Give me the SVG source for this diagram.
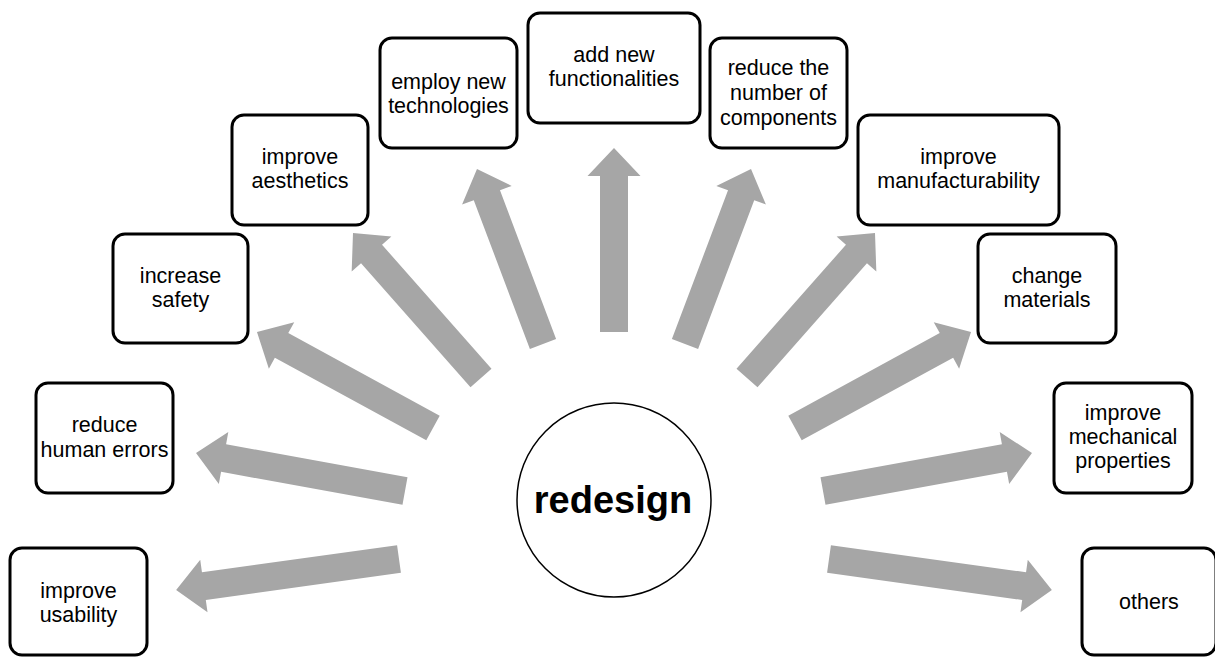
<svg xmlns="http://www.w3.org/2000/svg" width="1215" height="657" viewBox="0 0 1215 657">
<style>
.box{fill:#fff;stroke:#000;stroke-width:3}
.lbl{font-family:"Liberation Sans",Arial,sans-serif;font-size:21.5px;fill:#000;text-anchor:middle}
.arr{fill:#a6a6a6}
.hub{fill:#fff;stroke:#000;stroke-width:1.5}
.hubt{font-family:"Liberation Sans",Arial,sans-serif;font-size:38px;font-weight:bold;fill:#000;text-anchor:middle}
</style>
<rect width="1215" height="657" fill="#fff"/>
<g id="connectors">
<polygon class="arr" transform="translate(399,559) rotate(172.09)" points="0,-14 197,-14 197,-26.5 225,0 197,26.5 197,14 0,14"/>
<polygon class="arr" transform="translate(405,491) rotate(-169.7)" points="0,-14 184.4,-14 184.4,-26.5 212.4,0 184.4,26.5 184.4,14 0,14"/>
<polygon class="arr" transform="translate(433,428) rotate(-151.39)" points="0,-14 172.5,-14 172.5,-26.5 200.5,0 172.5,26.5 172.5,14 0,14"/>
<polygon class="arr" transform="translate(481,378) rotate(-131.44)" points="0,-14 165.4,-14 165.4,-26.5 193.4,0 165.4,26.5 165.4,14 0,14"/>
<polygon class="arr" transform="translate(543,344) rotate(-110.67)" points="0,-14 159,-14 159,-26.5 187,0 159,26.5 159,14 0,14"/>
<polygon class="arr" transform="translate(614,332) rotate(-90)" points="0,-14 156,-14 156,-26.5 184,0 156,26.5 156,14 0,14"/>
<polygon class="arr" transform="translate(685,344) rotate(-69.33)" points="0,-14 159,-14 159,-26.5 187,0 159,26.5 159,14 0,14"/>
<polygon class="arr" transform="translate(747,378) rotate(-48.56)" points="0,-14 165.4,-14 165.4,-26.5 193.4,0 165.4,26.5 165.4,14 0,14"/>
<polygon class="arr" transform="translate(795,428) rotate(-28.61)" points="0,-14 172.5,-14 172.5,-26.5 200.5,0 172.5,26.5 172.5,14 0,14"/>
<polygon class="arr" transform="translate(823,491) rotate(-10.3)" points="0,-14 184.4,-14 184.4,-26.5 212.4,0 184.4,26.5 184.4,14 0,14"/>
<polygon class="arr" transform="translate(829,559) rotate(7.91)" points="0,-14 197,-14 197,-26.5 225,0 197,26.5 197,14 0,14"/>
</g>
<g id="hub">
<circle class="hub" cx="614" cy="500" r="97"/>
<text class="hubt" x="613" y="513">redesign</text>
</g>
<g id="n-usability">
<rect class="box" x="10" y="548" width="137" height="107" rx="12"/>
<text class="lbl" x="78.5" y="598">improve</text>
<text class="lbl" x="78.5" y="622">usability</text>
</g>
<g id="n-errors">
<rect class="box" x="36" y="383" width="137" height="110" rx="12"/>
<text class="lbl" x="104.5" y="432">reduce</text>
<text class="lbl" x="104.5" y="457">human errors</text>
</g>
<g id="n-safety">
<rect class="box" x="113" y="234" width="135" height="109" rx="12"/>
<text class="lbl" x="180.5" y="283">increase</text>
<text class="lbl" x="180.5" y="307">safety</text>
</g>
<g id="n-aesthetics">
<rect class="box" x="232" y="115" width="136" height="110" rx="12"/>
<text class="lbl" x="300" y="164">improve</text>
<text class="lbl" x="300" y="188">aesthetics</text>
</g>
<g id="n-technologies">
<rect class="box" x="380" y="38" width="137" height="110" rx="12"/>
<text class="lbl" x="448.5" y="89">employ new</text>
<text class="lbl" x="448.5" y="113">technologies</text>
</g>
<g id="n-functionalities">
<rect class="box" x="528" y="13" width="172" height="110" rx="12"/>
<text class="lbl" x="614" y="62">add new</text>
<text class="lbl" x="614" y="86">functionalities</text>
</g>
<g id="n-components">
<rect class="box" x="710" y="38" width="137" height="110" rx="12"/>
<text class="lbl" x="778.5" y="75">reduce the</text>
<text class="lbl" x="778.5" y="100">number of</text>
<text class="lbl" x="778.5" y="125">components</text>
</g>
<g id="n-manufacturability">
<rect class="box" x="858" y="115" width="201" height="110" rx="12"/>
<text class="lbl" x="958.5" y="164">improve</text>
<text class="lbl" x="958.5" y="188">manufacturability</text>
</g>
<g id="n-materials">
<rect class="box" x="978" y="234" width="138" height="109" rx="12"/>
<text class="lbl" x="1047" y="283">change</text>
<text class="lbl" x="1047" y="307">materials</text>
</g>
<g id="n-mechanical">
<rect class="box" x="1054" y="383" width="138" height="110" rx="12"/>
<text class="lbl" x="1123" y="420">improve</text>
<text class="lbl" x="1123" y="444">mechanical</text>
<text class="lbl" x="1123" y="468">properties</text>
</g>
<g id="n-others">
<rect class="box" x="1082" y="548" width="134" height="107" rx="12"/>
<text class="lbl" x="1149" y="609">others</text>
</g>
</svg>
